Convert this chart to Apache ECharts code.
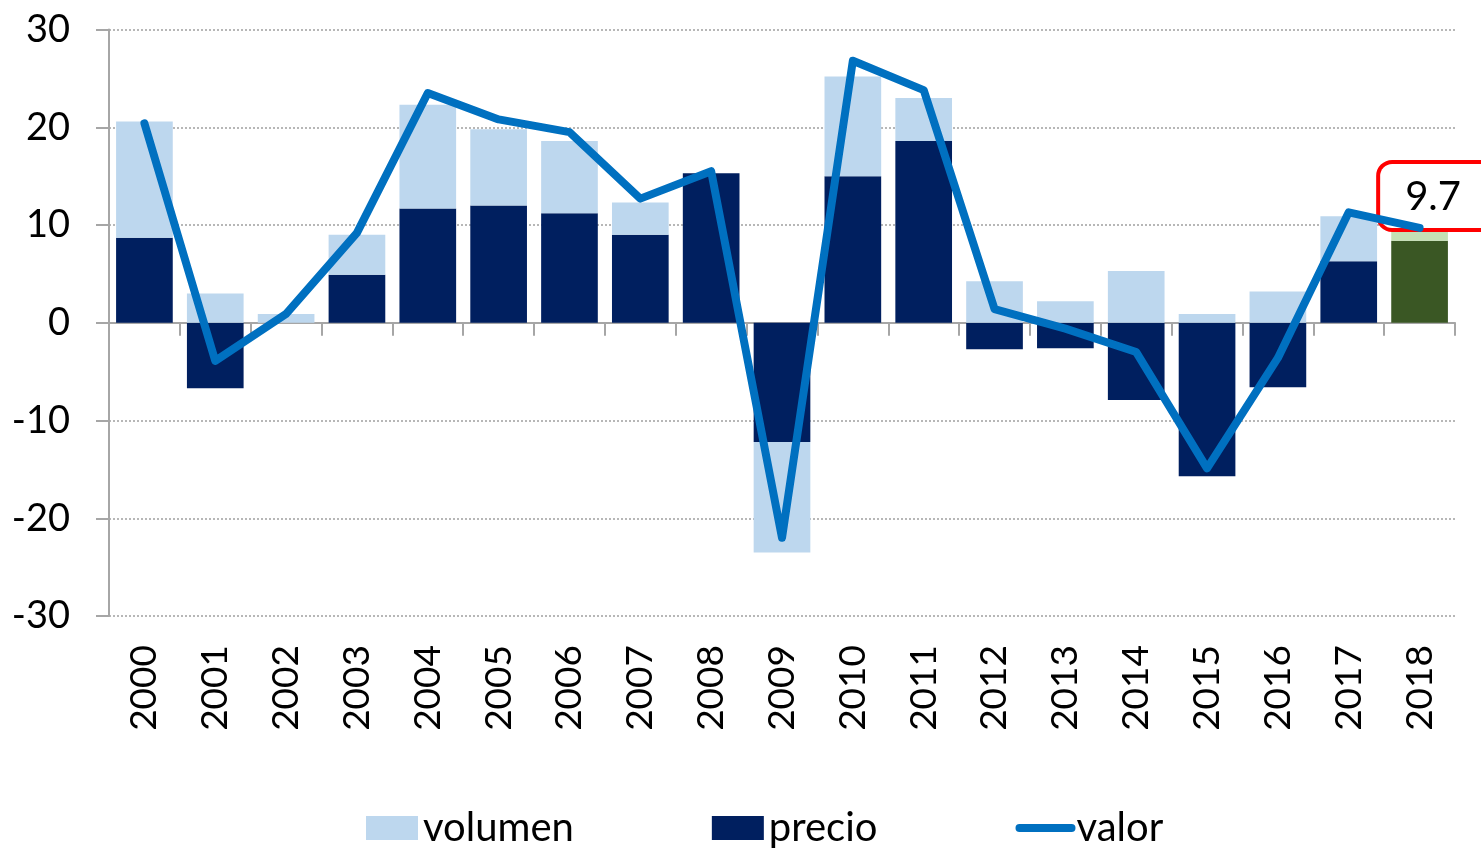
<!DOCTYPE html>
<html>
<head>
<meta charset="utf-8">
<script src="https://cdn.jsdelivr.net/npm/echarts@6/dist/echarts.min.js"></script>
<style>html,body{margin:0;padding:0;background:#fff;}#c{width:1481px;height:848px;}</style>
</head>
<body>
<div id="c"></div>
<script>
const years = ['2000','2001','2002','2003','2004','2005','2006','2007','2008','2009','2010','2011','2012','2013','2014','2015','2016','2017','2018'];
const precio = [8.7, -6.7, 0, 4.9, 11.7, 12.0, 11.2, 9.0, 15.3, -12.2, 15.0, 18.6, -2.7, -2.6, -7.9, -15.7, -6.6, 6.3, 8.4];
const volumen = [11.9, 3.0, 0.9, 4.1, 10.6, 7.8, 7.4, 3.3, 0, -11.3, 10.2, 4.4, 4.25, 2.2, 5.3, 0.9, 3.2, 4.6, 1.1];
const valor = [20.4, -3.9, 0.9, 9.2, 23.5, 20.8, 19.5, 12.7, 15.5, -22.0, 26.8, 23.8, 1.4, -0.6, -3.0, -14.9, -3.6, 11.3, 9.7];
const yTicks = {min: -30, max: 30, interval: 10};
const highlightYear = '2018';

const FONT = 'Lato';
const C_LIGHT = '#bdd7ee', C_DARK = '#001f5f', C_LINE = '#0070c0';
const C_LIGHT_G = '#c5e0b4', C_DARK_G = '#3a5724';
const AX = '#a6a6a6';

function barData(vals, special) {
  return vals.map((v, i) => years[i] === highlightYear ? {value: v, itemStyle: {color: special}} : v);
}
const lastIdx = years.indexOf(highlightYear);

const chart = echarts.init(document.getElementById('c'), null, {renderer: 'canvas'});
chart.setOption({
  animation: false,
  backgroundColor: '#fff',
  textStyle: {fontFamily: FONT},
  grid: {left: 109, right: 26, top: 29.5, bottom: 232, containLabel: false},
  legend: {
    left: 366, top: 808, padding: 0,
    itemWidth: 52, itemHeight: 24, itemGap: 138,
    data: [
      {name: 'volumen', icon: 'rect'},
      {name: 'precio', icon: 'rect'},
      {name: 'valor', itemStyle: {opacity: 0, color: 'rgba(0,0,0,0)', borderWidth: 0}}
    ],
    textStyle: {fontFamily: FONT, fontSize: 40, color: '#000'},
    lineStyle: {width: 8, cap: 'round'}
  },
  xAxis: [
    {
      type: 'category', data: years,
      axisLine: {onZero: true, lineStyle: {color: AX, width: 2}},
      axisTick: {show: true, length: 13, lineStyle: {color: AX, width: 2}},
      axisLabel: {show: false},
      splitLine: {show: false}
    },
    {
      type: 'category', data: years, position: 'bottom',
      axisLine: {show: false, onZero: false}, axisTick: {show: false},
      axisLabel: {rotate: 90, margin: 29, fontFamily: FONT, fontSize: 37, color: '#000'},
      splitLine: {show: false}
    }
  ],
  yAxis: {
    type: 'value', min: yTicks.min, max: yTicks.max, interval: yTicks.interval,
    axisLine: {show: true, lineStyle: {color: AX, width: 2}},
    axisTick: {show: true, length: 13, lineStyle: {color: AX, width: 2}},
    axisLabel: {margin: 39, fontFamily: FONT, fontSize: 38, color: '#000'},
    splitLine: {show: true, lineStyle: {color: '#a0a0a0', width: 1.5, type: [2, 2]}}
  },
  series: [
    {
      name: 'precio', type: 'bar', stack: 'tot', xAxisIndex: 0,
      barCategoryGap: '20%', itemStyle: {color: C_DARK},
      data: barData(precio, C_DARK_G), z: 2
    },
    {
      name: 'volumen', type: 'bar', stack: 'tot', xAxisIndex: 0,
      barCategoryGap: '20%', itemStyle: {color: C_LIGHT},
      data: barData(volumen, C_LIGHT_G), z: 2
    },
    {
      name: 'valor', type: 'line', xAxisIndex: 0,
      symbol: 'none', showSymbol: false,
      lineStyle: {color: C_LINE, width: 8, cap: 'round', join: 'round'},
      itemStyle: {color: C_LINE},
      data: valor, z: 5,
      markPoint: {
        symbol: 'rect', symbolSize: 0, silent: true,
        data: [{coord: [lastIdx, valor[lastIdx]], value: valor[lastIdx]}],
        label: {
          show: true, position: 'top', distance: 0, offset: [22, 0],
          formatter: '{c}', fontFamily: FONT, fontSize: 40, color: '#000',
          backgroundColor: '#fff', borderColor: '#ff0000', borderWidth: 4, borderRadius: 12,
          padding: [9, 42, 7, 25], lineHeight: 48
        }
      }
    }
  ]
});
</script>
</body>
</html>
